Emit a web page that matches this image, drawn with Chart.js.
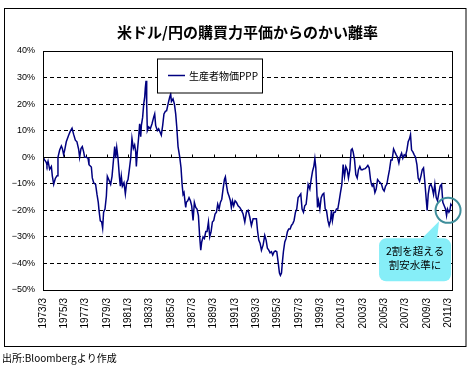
<!DOCTYPE html>
<html>
<head>
<meta charset="utf-8">
<script src="https://cdn.jsdelivr.net/npm/chart.js@4.4.1/dist/chart.umd.min.js"></script>
<style>
  html, body { margin: 0; padding: 0; background: #fff; }
  #wrap { width: 470px; height: 369px; position: relative; }
</style>
</head>
<body>
<div id="wrap"><canvas id="pppChart"></canvas></div>
<script>
// 年 (小数, 1973/3 = 1973.17)
const dates = [
  1973.17, 1973.32, 1973.48, 1973.54, 1973.64, 1973.79, 1973.95, 1974.04, 1974.17, 1974.32,
  1974.48, 1974.57, 1974.73, 1974.89, 1974.98, 1975.10, 1975.20, 1975.35, 1975.57, 1975.73,
  1975.89, 1976.04, 1976.20, 1976.35, 1976.51, 1976.60, 1976.73, 1976.85, 1976.98, 1977.07,
  1977.23, 1977.39, 1977.48, 1977.70, 1977.79, 1977.92, 1978.10, 1978.23, 1978.35, 1978.42,
  1978.54, 1978.67, 1978.76, 1978.85, 1978.98, 1979.11, 1979.20, 1979.33, 1979.51, 1979.64,
  1979.79, 1979.89, 1979.98, 1980.08, 1980.20, 1980.33, 1980.42, 1980.51, 1980.61, 1980.76,
  1980.89, 1981.01, 1981.14, 1981.26, 1981.39, 1981.51, 1981.64, 1981.76, 1981.86, 1981.92,
  1982.01, 1982.14, 1982.23, 1982.33, 1982.39, 1982.51, 1982.61, 1982.70, 1982.76, 1982.83,
  1982.89, 1982.95, 1983.08, 1983.23, 1983.39, 1983.54, 1983.64, 1983.73, 1983.89, 1984.01,
  1984.14, 1984.26, 1984.39, 1984.51, 1984.64, 1984.76, 1984.89, 1985.04, 1985.14, 1985.21,
  1985.36, 1985.49, 1985.61, 1985.71, 1985.83, 1985.99, 1986.11, 1986.21, 1986.30, 1986.39,
  1986.49, 1986.55, 1986.61, 1986.74, 1986.86, 1986.99, 1987.11, 1987.24, 1987.36, 1987.49,
  1987.61, 1987.74, 1987.86, 1987.96, 1988.05, 1988.18, 1988.30, 1988.43, 1988.55, 1988.68,
  1988.80, 1988.93, 1989.05, 1989.18, 1989.30, 1989.43, 1989.55, 1989.68, 1989.80, 1989.93,
  1990.05, 1990.18, 1990.27, 1990.36, 1990.49, 1990.61, 1990.74, 1990.83, 1990.93, 1991.05,
  1991.18, 1991.31, 1991.46, 1991.62, 1991.78, 1991.93, 1992.09, 1992.24, 1992.40, 1992.56,
  1992.71, 1992.87, 1993.03, 1993.18, 1993.28, 1993.40, 1993.53, 1993.65, 1993.81, 1993.96,
  1994.09, 1994.21, 1994.34, 1994.46, 1994.59, 1994.71, 1994.84, 1994.96, 1995.09, 1995.21,
  1995.34, 1995.43, 1995.53, 1995.62, 1995.71, 1995.84, 1995.96, 1996.09, 1996.21, 1996.34,
  1996.46, 1996.59, 1996.71, 1996.84, 1996.96, 1997.09, 1997.21, 1997.34, 1997.46, 1997.59,
  1997.71, 1997.84, 1997.94, 1998.03, 1998.19, 1998.31, 1998.44, 1998.56, 1998.66, 1998.75,
  1998.81, 1998.91, 1999.00, 1999.13, 1999.25, 1999.38, 1999.50, 1999.63, 1999.75, 1999.88,
  2000.00, 2000.13, 2000.22, 2000.31, 2000.44, 2000.56, 2000.69, 2000.81, 2000.94, 2001.06,
  2001.19, 2001.31, 2001.44, 2001.56, 2001.69, 2001.81, 2001.94, 2002.06, 2002.16, 2002.25,
  2002.38, 2002.50, 2002.63, 2002.75, 2002.88, 2003.00, 2003.13, 2003.25, 2003.38, 2003.50,
  2003.63, 2003.75, 2003.88, 2003.97, 2004.04, 2004.16, 2004.29, 2004.41, 2004.54, 2004.66,
  2004.79, 2004.91, 2005.04, 2005.16, 2005.29, 2005.41, 2005.54, 2005.66, 2005.79, 2005.91,
  2006.04, 2006.16, 2006.29, 2006.41, 2006.54, 2006.66, 2006.79, 2006.91, 2007.04, 2007.16,
  2007.29, 2007.41, 2007.54, 2007.63, 2007.73, 2007.85, 2007.98, 2008.10, 2008.23, 2008.35,
  2008.48, 2008.60, 2008.73, 2008.85, 2008.98, 2009.10, 2009.19, 2009.29, 2009.41, 2009.54,
  2009.66, 2009.79, 2009.91, 2010.04, 2010.16, 2010.29, 2010.41, 2010.54, 2010.66, 2010.79,
  2010.91, 2011.01, 2011.10, 2011.23, 2011.32, 2011.41, 2011.51
];

// 生産者物価PPPからのかい離率 (%)
const deviation = [
  0, -1, -2, -3, -1.5, -4.5, -3.5, -7, -10.2, -8,
  -7, 0, 2.7, 4.2, 3.3, 1, 2.7, 5.8, 8.3, 9.8,
  10.9, 8.6, 6.4, 5.8, 3, 0, 3.3, 4, 2, 0,
  0, -0.4, -2.8, -3.7, -7.8, -9.6, -10.2, -14, -17, -20,
  -24, -24.4, -26.7, -20.7, -19.5, -14.6, -7.2, -8.4, -10.2, -7.2,
  -0.4, 4, -0.4, 3.7, -0.4, -7.2, -10.9, -7.2, -10.9, -9.6,
  -13.8, -9.6, -8.4, -4.7, -0.4, 7, 3.3, 4.6, 2, -3.5,
  2, 7.7, 12.6, 7.7, 12, 15, 20, 22.5, 26, 28.8,
  20, 10, 11.4, 10.7, 12.6, 15, 16.3, 12, 10, 10.7,
  9.5, 8.3, 12, 16.3, 17.3, 17.5, 20, 22.5, 23.8, 21,
  22, 20, 16.3, 11.4, 4, 0, -4, -10.2, -14, -13.3,
  -17, -18.9, -17, -16.4, -15.2, -16.4, -18.3, -23.8, -17, -18.9,
  -19.5, -22, -30, -35, -31.9, -30, -30.6, -28, -28, -24.4,
  -30, -28, -24.4, -23.8, -21.4, -20.7, -17.7, -19.5, -17, -15.8,
  -12, -8.4, -7.4, -10.2, -13.3, -14.6, -16.4, -18.9, -16.4, -18.3,
  -16.4, -17, -18.3, -18.9, -20, -21.4, -24.4, -20.7, -20, -22.6,
  -25.7, -23.2, -23.2, -23.2, -27.5, -31.2, -32.5, -35, -33, -29.4,
  -31.2, -34.3, -35, -36, -35.6, -36.8, -35.6, -35.3, -35.6, -39.3,
  -43.6, -44.5, -43.6, -39.3, -35.6, -31.9, -30.6, -28, -27, -27,
  -25.7, -25, -23.8, -20.7, -19.5, -15.2, -14.6, -13.8, -19.5, -20.7,
  -18.3, -17.7, -14, -10.2, -12, -8.4, -5.3, -3.5, -0.5, -4,
  -9.6, -18.9, -16.4, -19.5, -15.2, -14, -13.6, -19.5, -20, -23.8,
  -25.7, -23.8, -20, -23.8, -20.7, -20.7, -19.5, -19.5, -16.4, -13.3,
  -10.2, -2.8, -7.2, -3.5, -4.7, -7.8, -4.7, 2.7, 3.2, 2,
  -1, -6.5, -7.8, -4.7, -3.5, -4.7, -4.7, -4.4, -4.3, -3.8,
  -3.1, -4, -8.4, -10.2, -10.9, -10.2, -13.3, -12, -8.4, -9,
  -9.6, -10.2, -12, -12.7, -10.9, -10.2, -7.2, -4.7, -1, -1,
  3.1, 2, 0.9, 0, -2.2, 0.2, 1.5, -0.4, 0.9, 0.5,
  2.7, 5.8, 7, 8.5, 2.7, 2, 0.9, 0, -2.8, -7.8,
  -9, -7.2, -4.7, -4, -9.6, -15.8, -20, -14, -10.9, -10.2,
  -11.5, -14, -10.2, -15.2, -16.4, -13.3, -10.9, -10.2, -17, -18.3,
  -19.5, -22, -19.5, -20.7, -20, -17.7, -18.3
];

const xTickYears = [1973, 1975, 1977, 1979, 1981, 1983, 1985, 1987, 1989, 1991,
  1993, 1995, 1997, 1999, 2001, 2003, 2005, 2007, 2009, 2011];
const yTickValues = [40, 30, 20, 10, 0, -10, -20, -30, -40, -50];

const seriesName = '生産者物価PPP';
const titleText = '米ドル/円の購買力平価からのかい離率';
const sourceText = '出所:Bloombergより作成';
const calloutLines = ['2割を超える', '割安水準に'];
const calloutPoint = { x: 2011.15, y: -20 };

const MARCH = 2 / 12;

const decorations = {
  id: 'decorations',
  beforeDatasetsDraw(chart) {
    const { ctx, chartArea: a, scales: { x, y } } = chart;
    const y0 = Math.round(y.getPixelForValue(0)) + 0.5;
    ctx.save();
    ctx.strokeStyle = '#000';
    ctx.lineWidth = 1;
    ctx.beginPath();
    ctx.moveTo(a.left, y0);
    ctx.lineTo(a.right, y0);
    x.ticks.forEach(t => {
      const px = Math.round(x.getPixelForValue(t.value)) + 0.5;
      ctx.moveTo(px, y0);
      ctx.lineTo(px, y0 - 3);
    });
    ctx.stroke();
    ctx.restore();
  },
  afterDraw(chart) {
    const { ctx, chartArea: a, scales: { x, y } } = chart;
    ctx.save();
    ctx.strokeStyle = '#000';
    ctx.lineWidth = 1;
    // plot frame + outer frame
    ctx.strokeRect(Math.round(a.left) + 0.5, Math.round(a.top) + 0.5,
      Math.round(a.right - a.left), Math.round(a.bottom - a.top));
    ctx.strokeRect(4.5, 8.5, 461.5, 338);

    // title
    ctx.fillStyle = '#000';
    ctx.font = 'bold 15px "Noto Sans CJK JP"';
    ctx.textAlign = 'center';
    ctx.textBaseline = 'middle';
    ctx.fillText(titleText, (a.left + a.right) / 2, 32);

    // source
    ctx.font = '10px "Noto Sans CJK JP"';
    ctx.textAlign = 'left';
    ctx.fillText(sourceText, 2, 358);

    // legend box
    const lx = a.left + 114, ly = a.top + 7.5;
    ctx.fillStyle = '#fff';
    ctx.fillRect(lx, ly, 105, 34);
    ctx.strokeRect(lx + 0.5, ly + 0.5, 105, 34);
    ctx.strokeStyle = '#000080';
    ctx.lineWidth = 1.5;
    ctx.beginPath();
    ctx.moveTo(lx + 11, ly + 17);
    ctx.lineTo(lx + 28, ly + 17);
    ctx.stroke();
    ctx.fillStyle = '#000';
    ctx.font = '10px "Noto Sans CJK JP"';
    ctx.fillText(seriesName, lx + 32, ly + 17.5);

    // circle + callout
    const cx = x.getPixelForValue(calloutPoint.x);
    const cy = y.getPixelForValue(calloutPoint.y);
    const bx = cx - 69, by = cy + 28, bw = 72, bh = 43;
    ctx.fillStyle = '#86eef8';
    ctx.beginPath();
    ctx.moveTo(cx - 27, by + 1);
    ctx.lineTo(cx - 9, cy + 11);
    ctx.lineTo(cx - 11, by + 1);
    ctx.closePath();
    ctx.fill();
    ctx.beginPath();
    ctx.roundRect(bx, by, bw, bh, 7);
    ctx.fill();
    ctx.strokeStyle = '#3f8e9b';
    ctx.lineWidth = 2;
    ctx.beginPath();
    ctx.arc(cx, cy, 12.5, 0, Math.PI * 2);
    ctx.stroke();
    ctx.fillStyle = '#000';
    ctx.font = '10.5px "Noto Sans CJK JP"';
    ctx.textAlign = 'center';
    ctx.fillText(calloutLines[0], bx + bw / 2, by + 13);
    ctx.fillText(calloutLines[1], bx + bw / 2, by + 27);
    ctx.restore();
  }
};

new Chart(document.getElementById('pppChart'), {
  type: 'line',
  data: {
    datasets: [{
      label: seriesName,
      data: dates.map((d, i) => ({ x: d, y: deviation[i] })),
      borderColor: '#000080',
      borderWidth: 1.5,
      pointRadius: 0,
      tension: 0,
      fill: false
    }]
  },
  options: {
    responsive: true,
    maintainAspectRatio: false,
    animation: false,
    events: [],
    layout: { padding: { top: 51, right: 18, bottom: 0, left: 0 } },
    plugins: { legend: { display: false }, title: { display: false }, tooltip: { enabled: false } },
    scales: {
      x: {
        type: 'linear',
        min: 1973 + MARCH,
        max: 2011.52,
        afterBuildTicks: s => { s.ticks = xTickYears.map(v => ({ value: v + MARCH })); },
        afterFit: s => { s.height = 79; },
        grid: { display: false, drawTicks: false },
        border: { display: false },
        ticks: {
          autoSkip: false,
          minRotation: 90,
          maxRotation: 90,
          padding: 8,
          color: '#000',
          font: { family: '"Liberation Sans", Arial', size: 10 },
          callback: v => Math.round(v - MARCH) + '/3'
        }
      },
      y: {
        min: -50,
        max: 40,
        afterBuildTicks: s => { s.ticks = yTickValues.map(v => ({ value: v })); },
        afterFit: s => { s.width = 43; },
        grid: {
          drawTicks: false,
          color: c => (c.tick && [0, 40, -50].includes(c.tick.value)) ? 'rgba(0,0,0,0)' : '#000'
        },
        border: { display: false, dash: [4, 3] },
        ticks: {
          padding: 8,
          color: '#000',
          font: { family: '"Liberation Sans Narrow", "Liberation Sans", Arial', size: 9 },
          callback: v => (v < 0 ? '\u2212' + (-v) : v) + '%'
        }
      }
    }
  },
  plugins: [decorations]
});
</script>
</body>
</html>
